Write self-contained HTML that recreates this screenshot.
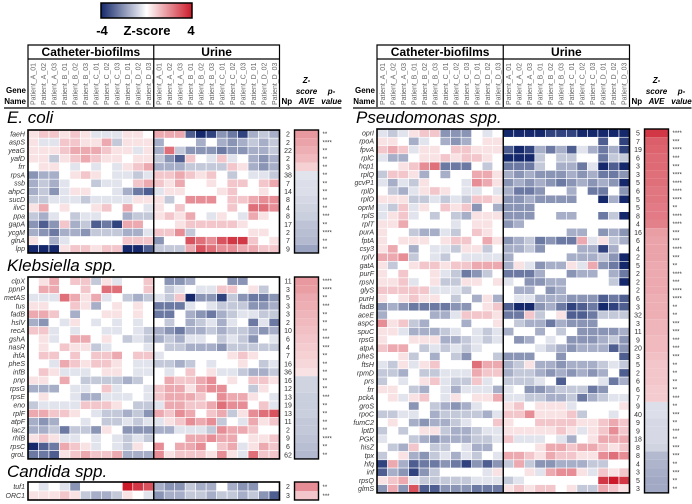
<!DOCTYPE html>
<html><head><meta charset="utf-8"><style>
body{margin:0;background:#fff;width:692px;height:504px;overflow:hidden}
svg{display:block;font-family:"Liberation Sans",sans-serif}
</style></head><body>
<svg id="chart" width="692" height="504" viewBox="0 0 692 504" xmlns="http://www.w3.org/2000/svg">
<defs><linearGradient id="cb" x1="0" x2="1"><stop offset="0" stop-color="#14286b"/><stop offset="0.5" stop-color="#ffffff"/><stop offset="1" stop-color="#cc1a2a"/></linearGradient></defs>
<rect x="101" y="3" width="91" height="15" fill="url(#cb)" stroke="#000" stroke-width="1.5"/>
<text x="102" y="35" font-size="13" font-weight="bold" text-anchor="middle">-4</text>
<text x="147" y="35" font-size="13" font-weight="bold" text-anchor="middle">Z-score</text>
<text x="191" y="35" font-size="13" font-weight="bold" text-anchor="middle">4</text>
</svg>
<script>
const sampleLabels=["Patient_A_01","Patient_A_02","Patient_A_03","Patient_B_01","Patient_B_02","Patient_B_03","Patient_C_01","Patient_C_02","Patient_C_03","Patient_D_01","Patient_D_02","Patient_D_03"];
const ecoliGenes=["faeH","aspS","yeaG","yafD","frr","rpsA","ssb","ahpC","sucD","ilvC","ppa","gapA","ycgM","glnA","lpp"];
const ecoliCells=["122121aaa110333fhgdegcbc","1aa22113b111c000c0cdcbcb","1112333211a1c5bdddeddccb","11b123211011bdf20a2a0cdc","0110a0a0a123cccbbbb21cdc","dcc01210aaba2232120b0aab","cbca00baa023213001022023","cbda1100acefa11000120010","bbaaabaaaa111b0444022344","13010012030a102000020554","bca0baa00cbb12130a10a310","dfd2cbfeg330001222221000","cdeccdbbbcca224b00000110","10ca00000222d00654677201","hhh122122hhfbbb365443322"];
const ecoliNp=[2,2,22,2,3,38,7,14,8,4,8,17,2,7,9];
const ecoliAve=[1.8,1.6,1.4,1.2,0.8,-0.5,-0.6,-0.6,-0.7,-0.8,-0.9,-1.1,-1.2,-1.3,-1.7];
const ecoliP=["**","****","**","**","**","**","**","**","**","**","***","**","****","**","**"];
const klebGenes=["clpX","ppnP","metAS","tus","fadB","hslV","recA","gshA","nasR","ihfA","pheS","infB","pnp","rpsG","rpsE","eno","rplF","atpF","lacZ","rhlB","rpsC","groL"];
const klebCells=["013022b1a0020ddc000dd000","0330020550020ba0aa2201b0","aaa5313a0bcbab2hddgbdeed","110021c01010eeea0abbbddc","3320c0011010ee0cdecbaabb","cd0a10a0a0a00b0cbaca0eae","22a0a00aa0abcdeccbcbbcdc","01a033010babcbcaa0babd0a","010211ba000a0bbcccdbbbbb","022020223022a00000012100","00a3212210aabbcb0a0010ba","021aaa0110aa0a0201aabccb","11030bbbbcb0032234010221","ccc0aa02a00a233134400b10","0100accaaa0a23332043310a","baaaa22210bba3322354402a","332210abbcbd3243023b1456","cdc00a0bbabaa12434b0a312","ccbebbd10dddccaaab433200","121aa0a0abab000334330112","hfe321a0ab1040334023a132","eef123223ccc41222141a522"];
const klebNp=[11,3,5,3,3,2,10,6,4,7,16,36,16,12,13,19,13,11,2,9,6,62];
const klebAve=[1.8,1.7,1.5,1.4,1.3,1.2,1.1,1.0,0.9,0.8,0.7,0.5,-0.8,-0.8,-0.9,-0.9,-0.9,-1.0,-1.0,-1.1,-1.2,-1.3];
const klebP=["****","****","**","***","**","**","**","***","***","**","**","**","**","**","***","**","**","**","**","****","**","**"];
const candGenes=["tuf1","ORC1"];
const candCells=["0a0ad0000876cddbcc0cdd00","11121bccb10adccbbcbbcbdf"];
const candNp=[2,3];
const candAve=[2.0,1.0];
const candP=["**","***"];
const pseuGenes=["oprI","rpoA","fpvA","rplC","hcp1","rplQ","gcvP1","rplD","rplO","oprM","rplS","rplT","purA","fptA","csy3","rplV","gatA","purF","rpsN","glyS","purH","fadB","aceE","aspC","spuC","rpsG","atpA","pheS","ftsH","rpmD","prs","frr","pckA","groS","rpoC","fumC2","lptD","PGK","hisZ","tpx","hfq","inf","rpsQ","glmS"];
const pseuCells=["aba122ddd0a0hhhhggghhhhh","110ca0cdc011000000000f0g","232a11022111fhgcecfacecg","acc011212210hhhb0bb00ebb","001245eee0b0eeeb0cceahfh","b221c0c00331cdcdddcdceed","acab1000a431dcdcdedcdcdh","0bca1210aa0aceed00c0ee0d","111bbabab221ddcdddd00hch","ab2a10212d0cddd000000000","a12a0b0bc111ddd00cc00ebh","1130000a0110dc0000000000","100bccab0210000000cc0dcd","101110122031dcbedee3a1bc","130c0aab11b0ccbd000ccgc0","334b0ab0aaaac00000cccbdh","1b0122122333c1adcc1a3deh","102001abedb0eeec00dcc0ce","112a01bb1101a0ddcc0000bh","22222aaab0000cc0dc000000","1012110b0c1c0aacccdddfef","dcdeeeedd012fhhdcegfehgf","c0000cca2221ee2b01ffebbb","412bc000c0010bccecddd000","11acccba0abac00c0b0ddddc","100111ccbaba0dc0a0dddcbd","2330bababa00000abcdcccfd","001b0c0bd00bddd00d00000f","ab1a12000533cb1ccdcccbab","bbc0bbaaa322cbbcdcdcdc0f","b0a012abb2a0bbba0f000aec","110bc0acaaaca0ddcbbbed00","01a120a10113aabbccbecbaa","000d0bcdca00120111a00001","bbaa0cbbbbca2241112b00a0","010cdccba002100222211232","b0b011bccbaa1111121a1242","a00bcdcccbba2aaa0ac01333","0bc20bb0acc0000133233212","b01cdbacab0a332132211454","g3cfeedegdfdb3bddcccbb00","fcdgdb0000a1001a3441a212","123abbbbbaaaba0000000787","d3d6ffdddeee1212201bb321"];
const pseuNp=[5,7,19,6,3,3,5,6,5,5,8,4,16,6,4,2,5,2,2,2,6,3,32,3,11,9,20,3,5,2,6,6,7,9,40,9,9,18,8,8,4,3,5,3];
const pseuAve=[3.5,2.8,2.7,2.6,2.6,2.5,2.5,2.4,2.4,2.3,2.3,2.2,1.7,1.6,1.6,1.6,1.5,1.5,1.5,1.5,1.4,1.4,1.4,1.3,1.3,1.2,1.2,1.1,1.0,1.0,1.0,0.9,0.9,-0.6,-0.6,-0.7,-0.7,-0.7,-0.8,-1.3,-1.4,-1.5,-1.6,-1.6];
const pseuP=["****","***","****","***","***","****","****","****","****","**","****","****","***","***","****","***","**","****","***","****","****","**","**","***","***","***","***","***","**","**","**","**","***","**","***","**","***","**","***","***","**","***","**","**"];

const NS="http://www.w3.org/2000/svg";
const svg=document.getElementById('chart');
const CODE="hgfedcba012345678";
function decode(s){const out=[];for(let i=0;i<24;i++){const k=CODE.indexOf(s[i]||'0');out.push(k<0?0:k*0.5-4);}return out;}
function color(v){v=Math.max(-4,Math.min(4,v));const t=Math.abs(v)/4;const e=v>=0?[204,26,42]:[20,40,107];
const c=e.map(x=>Math.round(255+(x-255)*t));return `rgb(${c[0]},${c[1]},${c[2]})`;}
function mk(tag,attrs,parent){const el=document.createElementNS(NS,tag);for(const k in attrs)el.setAttribute(k,attrs[k]);(parent||svg).appendChild(el);return el;}

function header(x0,x1,gx){
  const cw=(x1-x0)/24;const mid=x0+cw*12;
  const g=mk('g',{});
  
  
  mk('path',{d:`M${x0} 107V45H${x1}V107M${mid} 45V107M${x0} 59H${x1}`,fill:'none',stroke:'#000','stroke-width':1.2},g);
  let t=mk('text',{x:(x0+mid)/2,y:56,'font-size':12,'font-weight':'bold','text-anchor':'middle'},g);t.textContent='Catheter-biofilms';
  
  
  t=mk('text',{x:(mid+x1)/2,y:56,'font-size':12,'font-weight':'bold','text-anchor':'middle'},g);t.textContent='Urine';
  
  
  for(let i=0;i<24;i++){
    const cx=x0+cw*(i+0.5)+2.5;
    const l=mk('text',{x:0,y:0,'font-size':7,fill:'#666',transform:`translate(${cx},105) rotate(-90)`},g);
    l.textContent=sampleLabels[i%12];
    
    
  }
  t=mk('text',{x:gx,y:93,'font-size':8,'font-weight':'bold','text-anchor':'end'},g);t.textContent='Gene';
  t=mk('text',{x:gx,y:104,'font-size':8,'font-weight':'bold','text-anchor':'end'},g);t.textContent='Name';
  t=mk('text',{x:x1+2,y:104,'font-size':8,'font-weight':'bold'},g);t.textContent='Np';
  const ax=x1+27;
  [['Z-',83],['score',94],['AVE',104]].forEach(([s,y])=>{const q=mk('text',{x:ax,y:y,'font-size':8,'font-weight':'bold','font-style':'italic','text-anchor':'middle'},g);q.textContent=s;});
  [['p-',94],['value',104]].forEach(([s,y])=>{const q=mk('text',{x:ax+25,y:y,'font-size':8,'font-weight':'bold','font-style':'italic','text-anchor':'middle'},g);q.textContent=s;});
  mk('line',{x1:gx-22,x2:x1+62,y1:108,y2:108,stroke:'#000','stroke-width':1.3},g);
}

function panel(name,title,ty,genes,cells,np,ave,pv,x0,x1,y0,rh){
  const cw=(x1-x0)/24;
  const g=mk('g',{});
  
  
  const tt=mk('text',{x:x0-21,y:ty,'font-size':17,'font-style':'italic'},g);tt.textContent=title;
  
  
  genes.forEach((gn,r)=>{
    const vals=decode(cells[r]);const y=y0+r*rh;
    vals.forEach((v,c)=>{
      const rc=mk('rect',{x:x0+c*cw,y:y,width:cw,height:rh,fill:color(v),stroke:'#fff','stroke-width':0.6},g);
      
      
    });
    const lb=mk('text',{x:x0-3,y:y+rh*0.78,'font-size':7,'font-style':'italic',fill:'#333','text-anchor':'end'},g);lb.textContent=gn;
    
    
    const n=mk('text',{x:x1+8.5,y:y+rh*0.8,'font-size':7,fill:'#333','text-anchor':'middle'},g);n.textContent=np[r];
    
    
    const a=mk('rect',{x:x1+15,y:y,width:24,height:rh,fill:color(ave[r])},g);
    
    
    const p=mk('text',{x:x1+43,y:y+rh*0.75,'font-size':6,fill:'#333'},g);p.textContent=pv[r];
    
    
  });
  const H=genes.length*rh;
  mk('rect',{x:x0,y:y0,width:x1-x0,height:H,fill:'none',stroke:'#000','stroke-width':1.6},g);
  mk('line',{x1:x0+cw*12,x2:x0+cw*12,y1:y0,y2:y0+H,stroke:'#000','stroke-width':1.4},g);
  mk('rect',{x:x1+15,y:y0,width:24,height:H,fill:'none',stroke:'#000','stroke-width':1.4},g);
}

header(28,279.5,26);
header(377,629.5,375);
panel('ecoli','E. coli',123,ecoliGenes,ecoliCells,ecoliNp,ecoliAve,ecoliP,28,279.5,130,8.2);
panel('klebsiella','Klebsiella spp.',271,klebGenes,klebCells,klebNp,klebAve,klebP,28,279.5,277,8.27);
panel('candida','Candida spp.',477,candGenes,candCells,candNp,candAve,candP,28,279.5,482,9);
panel('pseudomonas','Pseudomonas spp.',123,pseuGenes,pseuCells,pseuNp,pseuAve,pseuP,377,629.5,129,8.27);
</script>
</body></html>
